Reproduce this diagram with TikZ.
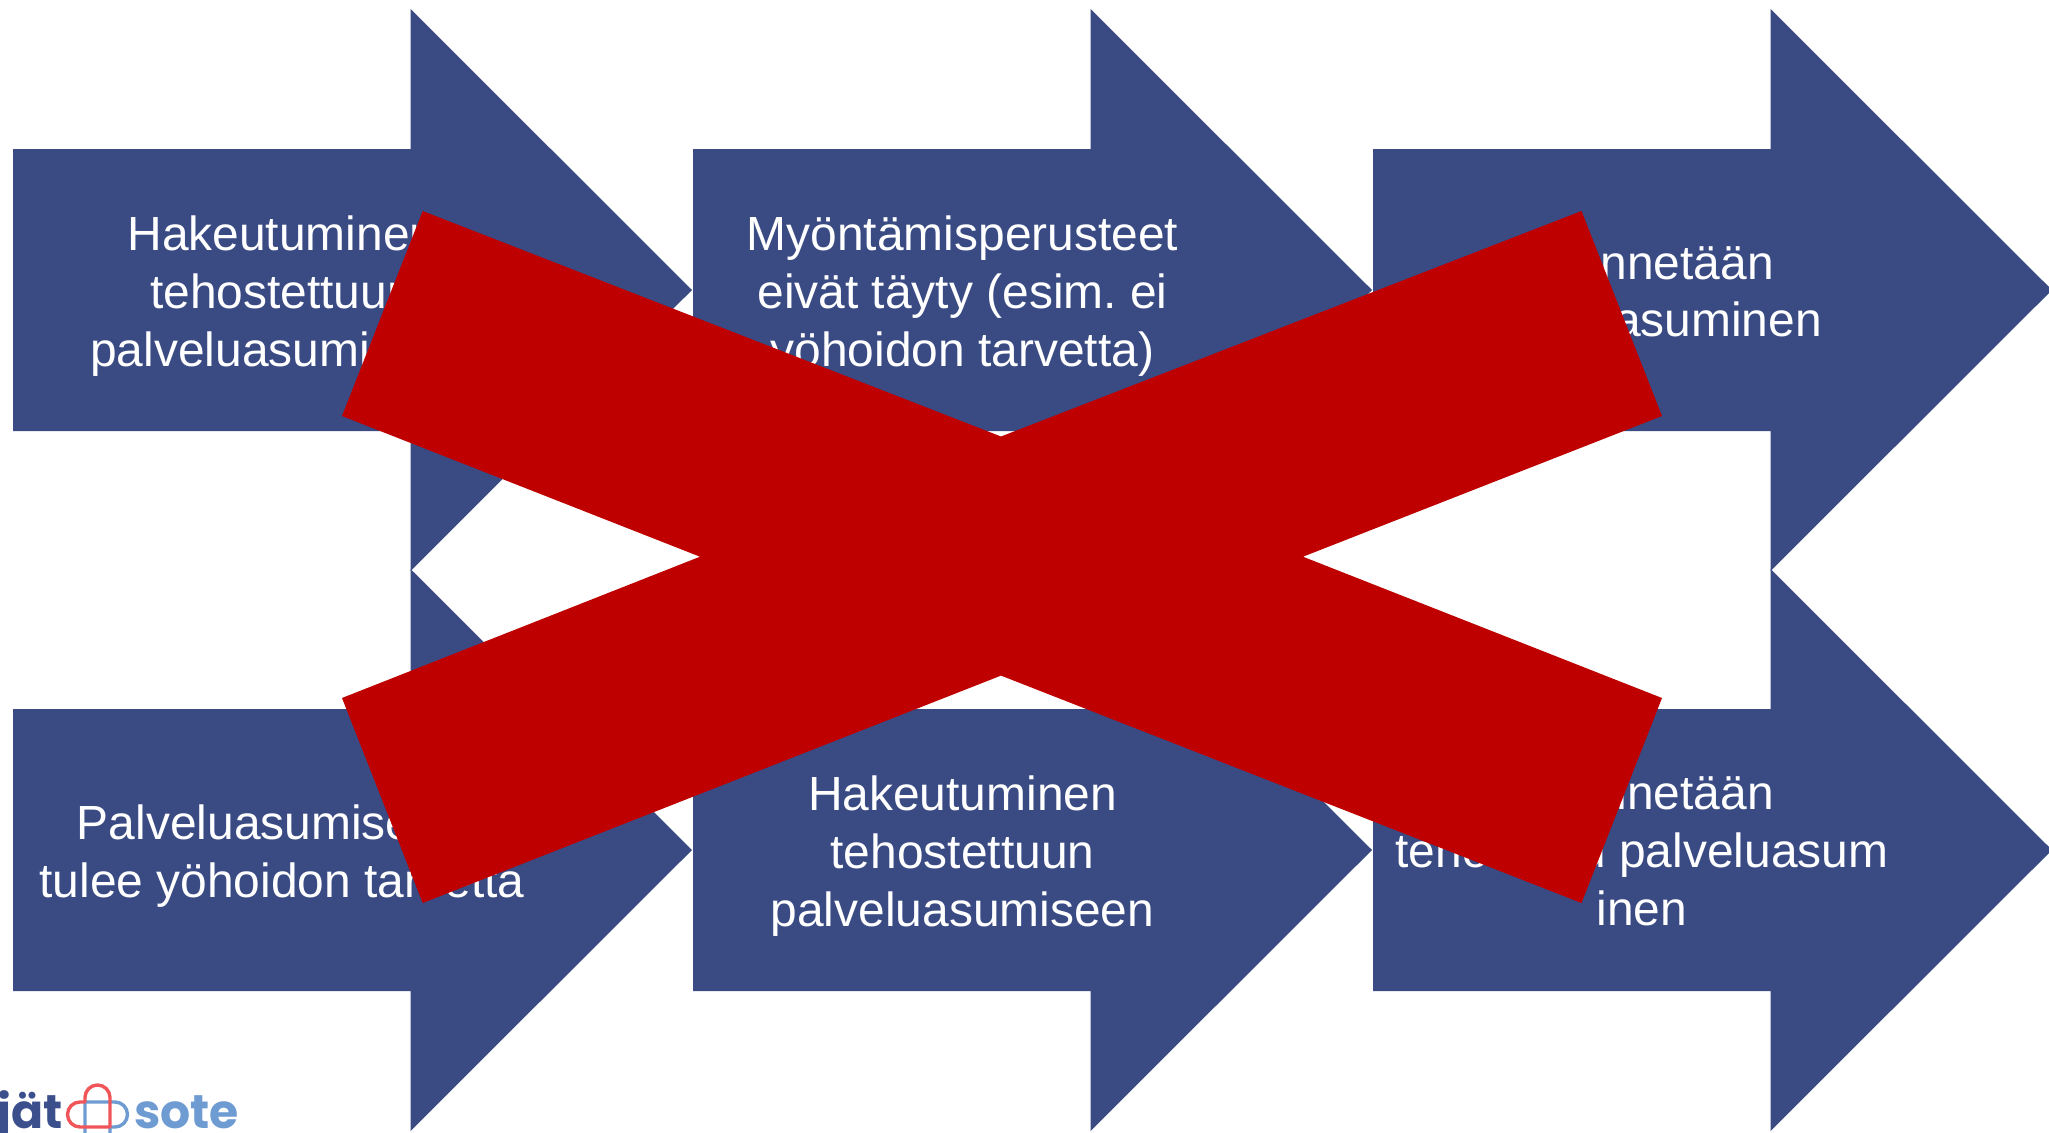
\documentclass[tikz,border=0pt]{standalone}
\usepackage{fontspec}
\setmainfont{Liberation Sans}
\newfontfamily\logofont{Poppins}[UprightFont=* Bold]
\definecolor{arrowblue}{HTML}{3A4B84}
\definecolor{crossred}{HTML}{BE0000}
\definecolor{logodark}{HTML}{3A4F8C}
\definecolor{logolight}{HTML}{6F9BD3}
\definecolor{logored}{HTML}{F0555A}
\tikzset{
  bigarrow/.style={fill=arrowblue,draw=none},
  arrowtext/.style={text=white,align=center,anchor=center,inner sep=0pt,font=\frenchspacing\fontsize{48.1}{58}\selectfont},
  crossshape/.style={fill=crossred,draw=none},
  logotext/.style={anchor=base west,inner sep=0pt,font=\logofont\fontsize{47.5}{47.5}\selectfont},
  logoline/.style={line width=3.4pt,line join=round}
}
\newcommand{\bigarrowat}[2]{%
  \path[bigarrow] (#1,#2-141)--(#1+397.5,#2-141)--(#1+397.5,#2-281)--(#1+679,#2)--(#1+397.5,#2+281)--(#1+397.5,#2+141)--(#1,#2+141)--cycle;}
\begin{document}
\begin{tikzpicture}[x=1bp,y=-1bp]
\useasboundingbox (0,0) rectangle (2049,1132);
\clip (0,0) rectangle (2049,1132);
\fill[white] (0,0) rectangle (2049,1132);
\bigarrowat{13}{290}
\bigarrowat{693}{290}
\bigarrowat{1373}{290}
\bigarrowat{13}{850}
\bigarrowat{693}{850}
\bigarrowat{1373}{850}
\node[arrowtext] (t1) at (282,296) {Hakeutuminen\\tehostettuun\\palveluasumiseen};
\node[arrowtext] (t2) at (962.5,296) {Myöntämisperusteet\\eivät täyty (esim. ei\\yöhoidon tarvetta)};
\node[arrowtext] (t3) at (1642,296.5) {Myönnetään\\palveluasuminen};
\node[arrowtext] (t4) at (282,856) {Palveluasumisessa\\tulee yöhoidon tarvetta};
\node[arrowtext] (t5) at (962.5,856) {Hakeutuminen\\tehostettuun\\palveluasumiseen};
\node[arrowtext] (t6) at (1642,851.5) {Myönnetään\\tehostettu palveluasum\\inen};
\path[crossshape] (422.7,211)--(1001,436.5)--(1581.5,211)--(1662,416)--(1303,556.7)--(1662,698)--(1581.5,903)--(1001,675.6)--(422.7,903)--(342,698)--(700,556.7)--(342,416)--cycle;
\node[logotext,text=logodark] (l1) at (-3,1128) {jät};
\node[logotext,text=logolight] (l2) at (134,1128) {sote};
\draw[logoline,draw=logolight] (85,1140)--(85,1102)--(115,1102) arc[start angle=-90,end angle=90,radius=12.5] --(110,1127)--(110,1140);
\draw[logoline,draw=logored] (110,1127)--(110,1097.5) arc[start angle=0,end angle=-180,radius=12.5] --(85,1102)--(80,1102) arc[start angle=-90,end angle=-270,radius=12.5] --cycle;
\end{tikzpicture}
\end{document}
